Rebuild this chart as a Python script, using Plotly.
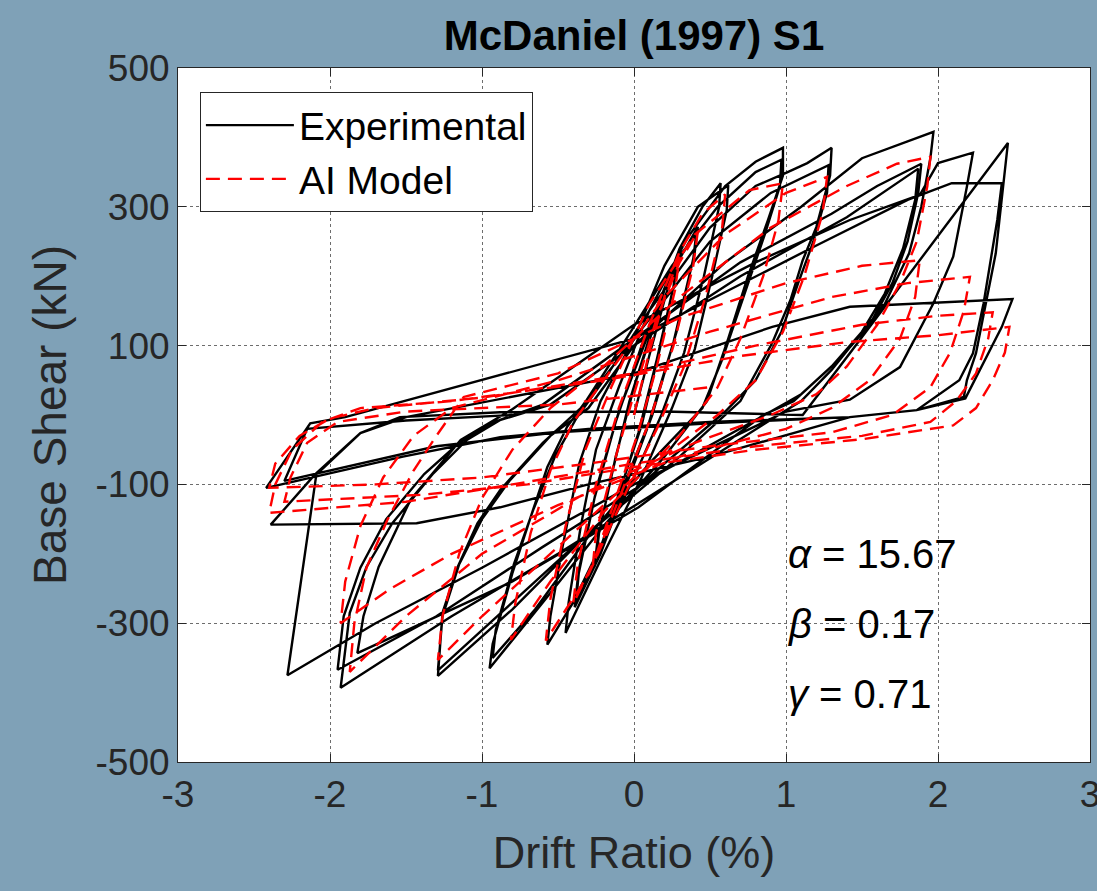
import plotly.graph_objects as go

# ---------------- data (drift ratio in %, base shear in kN) ----------------
exp_drift = [
    0.00, 0.10, 0.20, 0.29, 0.27, 0.17, 0.05, -0.08, -0.18, -0.26, -0.24, -0.14, -0.03,
    0.10, 0.20, 0.28, 0.26, 0.15, 0.03, -0.10, -0.25, -0.23, -0.12, 0.00,
    0.15, 0.30, 0.42, 0.40, 0.28, 0.12, -0.05, -0.22, -0.39, -0.37, -0.26, -0.12,
    0.05, 0.25, 0.41, 0.39, 0.26, 0.10, -0.10, -0.25, -0.38, -0.36, -0.24, -0.10,
    0.10, 0.30, 0.45, 0.57, 0.56, 0.46, 0.33, 0.18, 0.00, -0.20, -0.40, -0.57, -0.55, -0.47, -0.36, -0.22,
    0.00, 0.20, 0.42, 0.62, 0.61, 0.52, 0.40, 0.25, 0.05, -0.20, -0.45, -0.43, -0.35, -0.25, -0.10,
    0.10, 0.35, 0.60, 0.80, 0.98, 0.98, 0.88, 0.75, 0.62, 0.48, 0.20, -0.20, -0.60, -0.95, -0.93, -0.80, -0.68, -0.57, -0.44, -0.31,
    -0.05, 0.25, 0.55, 0.80, 0.97, 0.96, 0.86, 0.72, 0.58, 0.45, 0.10, -0.30, -0.65, -0.93, -0.91, -0.79, -0.66, -0.52, -0.38, -0.20,
    0.10, 0.50, 0.80, 1.00, 1.14, 1.30, 1.29, 1.20, 1.11, 1.03, 0.91, 0.70, 0.30, -0.30, -0.80, -1.29, -1.26, -1.16, -1.03, -0.88, -0.60, -0.35,
    0.00, 0.50, 0.90, 1.28, 1.27, 1.18, 1.08, 0.97, 0.80, 0.60, 0.20, -0.40, -0.90, -1.29, -1.26, -1.15, -1.00, -0.82, -0.55, -0.30,
    0.00, 0.60, 1.10, 1.50, 1.97, 1.95, 1.89, 1.81, 1.65, 1.47, 1.30, 1.10, 0.95, 0.30, -0.50, -1.20, -1.93, -1.87, -1.76, -1.59, -1.32, -1.10, -0.88, -0.60,
    0.00, 0.70, 1.30, 1.60, 1.89, 1.87, 1.80, 1.70, 1.55, 1.35, 1.10, 0.90, 0.20, -0.60, -1.30, -1.95, -1.91, -1.80, -1.63, -1.38, -1.15, -0.92, -0.55,
    0.00, 0.70, 1.40, 1.87, 1.85, 1.77, 1.65, 1.50, 1.30, 1.05, 0.85, 0.03, -0.80, -1.82, -1.78, -1.68, -1.47, -1.14, -0.81,
    0.00, 0.80, 1.42, 1.88, 2.00, 2.23, 2.19, 2.10, 1.97, 1.75, 1.42, 1.00, 0.00, -1.00, -1.70, -2.28, -2.09, -1.80, -1.54, -0.88,
    0.20, 1.11, 1.42, 1.80, 2.20, 2.46, 2.38, 2.25, 2.19, 2.17, 1.86, 1.42, 0.50, -0.30, -0.88, -1.52, -2.42, -2.13, -1.90,
    0.00, 1.18, 1.80, 2.09, 2.42, 2.39, 2.30, 2.23, 2.14, 1.86, 1.42, 0.50, -0.30, -0.88, -1.43, -2.39, -2.10, -1.80, -1.50,
    0.00, 0.91, 1.42, 2.49, 2.42, 2.30, 2.18, 1.86, 1.42, 0.50, -0.50, -1.30, -2.30, -2.15, -1.50, -0.80,
]
exp_shear = [
    0, 85, 165, 233, 195, 95, -15, -100, -165, -219, -180, -80, 20,
    110, 180, 225, 185, 80, -25, -115, -210, -170, -60, 40,
    140, 225, 271, 235, 120, 0, -100, -200, -277, -235, -120, -10,
    100, 210, 262, 225, 105, -10, -120, -210, -268, -220, -100, 5,
    120, 240, 300, 334, 300, 200, 90, 0, -90, -180, -270, -331, -290, -190, -70, 20,
    110, 215, 300, 331, 295, 205, 95, 10, -90, -200, -314, -270, -160, -50, 40,
    150, 255, 330, 365, 385, 345, 280, 200, 110, 20, -60, -160, -270, -365, -330, -228, -147, -75, -17, 22,
    110, 215, 300, 350, 368, 330, 260, 170, 80, 10, -70, -175, -280, -350, -310, -215, -135, -60, -5, 50,
    150, 270, 330, 349, 363, 385, 345, 271, 223, 166, 104, 20, -60, -170, -280, -376, -285, -219, -156, -108, -40, 10,
    110, 250, 320, 360, 320, 250, 190, 120, 50, 5, -70, -190, -290, -368, -290, -215, -150, -95, -30, 10,
    100, 220, 300, 370, 408, 370, 300, 233, 160, 112, 65, 20, 0, -90, -200, -290, -393, -285, -219, -156, -84, -36, -7, 15,
    110, 220, 290, 330, 362, 320, 250, 190, 130, 80, 30, 5, -80, -190, -290, -367, -290, -220, -150, -85, -40, -10, 15,
    100, 200, 285, 355, 310, 240, 175, 120, 70, 20, 0, -133, -240, -343, -290, -219, -122, -36, 7,
    130, 220, 281, 317, 363, 378, 329, 228, 161, 69, 22, 5, -100, -220, -300, -375, -86, -26, -3, 4,
    5, 0, 89, 200, 317, 392, 233, 89, 50, 26, 7, -3, -10, -20, -32, -60, -105, -12, -3,
    110, 242, 310, 334, 334, 281, 161, 89, 50, 7, -3, -60, -100, -133, -156, -158, -86, -26, -3,
    60, 127, 156, 167, 127, 75, 24, 7, -3, -12, -25, -45, -95, -20, -8, 0,
]

ai_drift = [
    0.00, 0.10, 0.20, 0.30, 0.27, 0.15, 0.02, -0.12, -0.27, -0.25, -0.12, 0.00,
    0.15, 0.30, 0.42, 0.39, 0.26, 0.10, -0.10, -0.25, -0.40, -0.37, -0.25, -0.10,
    0.10, 0.30, 0.45, 0.60, 0.58, 0.47, 0.33, 0.15, -0.05, -0.30, -0.58, -0.55, -0.45, -0.32, -0.15,
    0.10, 0.40, 0.76, 0.98, 0.95, 0.85, 0.70, 0.55, 0.30, -0.20, -0.55, -0.81, -0.78, -0.68, -0.55, -0.40, -0.20,
    0.20, 0.60, 1.00, 1.27, 1.24, 1.12, 0.98, 0.80, 0.55, 0.00, -0.60, -1.00, -1.29, -1.26, -1.15, -1.00, -0.80, -0.55, -0.20,
    0.30, 0.90, 1.40, 1.73, 1.95, 1.93, 1.86, 1.75, 1.60, 1.40, 1.20, 0.90, 0.40, -0.30, -1.00, -1.50, -1.87, -1.84, -1.76, -1.62, -1.45, -1.30, -1.12,
    -0.50, 0.30, 1.00, 1.50, 1.88, 1.85, 1.75, 1.55, 1.30, 1.00, 0.30, -0.50, -1.20, -1.60, -1.93, -1.90, -1.80, -1.65, -1.45, -1.20,
    -0.50, 0.50, 1.30, 1.80, 2.21, 2.17, 2.08, 1.95, 1.70, 1.30, 0.50, -0.30, -1.00, -1.70, -2.40, -2.36, -2.20, -2.00, -1.70, -1.00,
    0.00, 0.80, 1.50, 2.00, 2.36, 2.33, 2.25, 2.12, 1.95, 1.50, 0.80, 0.00, -0.80, -1.50, -2.40, -2.36, -2.25, -2.05, -1.80, -1.20,
    -0.20, 0.70, 1.40, 2.00, 2.47, 2.44, 2.36, 2.25, 2.10, 1.50, 0.80, 0.00, -0.70, -1.40, -2.30, -2.26, -2.15, -1.95, -1.50, -0.50, 0.50,
]
ai_shear = [
    0, 90, 170, 228, 180, 70, -30, -120, -215, -170, -60, 30,
    140, 220, 265, 215, 100, -10, -120, -205, -272, -215, -100, 10,
    130, 235, 290, 318, 270, 170, 70, -20, -110, -230, -325, -265, -160, -50, 40,
    160, 260, 324, 334, 280, 200, 110, 40, -30, -140, -240, -324, -270, -170, -80, -10, 50,
    170, 260, 320, 343, 290, 200, 120, 50, 0, -90, -210, -290, -353, -290, -200, -120, -50, 10, 70,
    170, 270, 330, 362, 372, 330, 250, 190, 130, 70, 30, 0, -40, -110, -200, -290, -370, -300, -220, -150, -80, -30, 26,
    60, 140, 190, 215, 223, 170, 110, 50, 10, -20, -60, -130, -200, -250, -300, -240, -160, -90, -30, 10,
    50, 120, 170, 190, 199, 150, 90, 40, 0, -25, -45, -70, -90, -100, -105, -70, -30, -5, 10, 25,
    60, 100, 130, 143, 148, 110, 60, 20, -10, -30, -45, -70, -100, -125, -141, -100, -50, -10, 10, 20,
    50, 85, 105, 115, 127, 90, 50, 10, -15, -35, -50, -75, -100, -115, -125, -90, -40, -10, 5, 15, 40,
]

x_ticks = [-3, -2, -1, 0, 1, 2, 3]
x_ticklabels = ["-3", "-2", "-1", "0", "1", "2", "3"]
y_ticks = [-500, -300, -100, 100, 300, 500]
y_ticklabels = ["-500", "-300", "-100", "100", "300", "500"]
params = ["<i>α</i> = 15.67", "<i>β</i> = 0.17", "<i>γ</i> = 0.71"]
param_y = [-200, -301, -402]

# ---------------- figure ----------------
BG = "#7FA1B7"
AX = "#262626"
FONT = "Liberation Sans, Arial, sans-serif"

fig = go.Figure()
fig.add_trace(go.Scatter(
    x=exp_drift, y=exp_shear, mode="lines", name="Experimental",
    line=dict(color="black", width=2.4),
))
fig.add_trace(go.Scatter(
    x=ai_drift, y=ai_shear, mode="lines", name="AI Model",
    line=dict(color="#FF0000", width=2.4, dash="14px,8px"),
))

for txt, yy in zip(params, param_y):
    fig.add_annotation(x=1.0, y=yy, xref="x", yref="y", text=txt,
                       showarrow=False, xanchor="left", yanchor="middle",
                       font=dict(family=FONT, size=40, color="black"))

axis_common = dict(
    showline=True, linecolor=AX, linewidth=1, mirror="ticks",
    ticks="inside", ticklen=8, tickcolor=AX, tickwidth=1,
    showgrid=True, gridcolor="rgba(60,60,60,0.75)", griddash="dot", gridwidth=1,
    zeroline=False, ticklabeloverflow="allow", automargin=False,
    tickfont=dict(family=FONT, size=37, color=AX),
)

fig.update_layout(
    width=1097, height=891,
    paper_bgcolor=BG, plot_bgcolor="white",
    margin=dict(l=178, r=7, t=68, b=129, autoexpand=False),
    title=dict(text="<b>McDaniel (1997) S1</b>", x=634 / 1097, xanchor="center",
               y=1 - 35 / 891, yanchor="middle",
               font=dict(family=FONT, size=42, color="black")),
    xaxis=dict(range=[-3, 3], tickvals=x_ticks, ticktext=x_ticklabels,
               title=dict(text="Drift Ratio (%)", standoff=22,
                          font=dict(family=FONT, size=45, color=AX)),
               **axis_common),
    yaxis=dict(range=[-500, 500], tickvals=y_ticks, ticktext=y_ticklabels,
               title=dict(text="Base Shear (kN)", standoff=14,
                          font=dict(family=FONT, size=46, color=AX)),
               **axis_common),
    legend=dict(x=0.024, y=0.965, xanchor="left", yanchor="top",
                bgcolor="white", bordercolor=AX, borderwidth=1,
                font=dict(family=FONT, size=39, color="black"),
                itemwidth=88, tracegroupgap=0),
    showlegend=True,
)

fig.write_html("out.html")
